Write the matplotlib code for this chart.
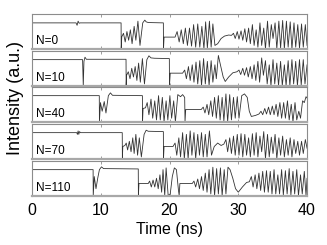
"""Stacked intensity traces for several N values."""

import matplotlib
matplotlib.use("Agg")
import matplotlib.pyplot as plt


plt.rcParams["font.family"] = ["Liberation Sans", "DejaVu Sans"]

panel_labels = ["N=0", "N=10", "N=40", "N=70", "N=110"]
time_ticks = [0, 10, 20, 30, 40]

# (time in ns, intensity as fraction of panel height)
trace_n0 = [
    (0, 0.75), (6.4, 0.75), (6.55, 0.68), (6.7, 0.8), (6.85, 0.74), (7.0, 0.75),
    (12.95, 0.75), (12.97, 0.0), (13.05, 0.35),
    (13.3, 0.45), (13.55, 0.2), (13.8, 0.5), (14.05, 0.25), (14.3, 0.55), (14.55, 0.15),
    (14.85, 0.65), (15.1, 0.25), (15.4, 0.8), (15.7, 0.1), (16.1, 0.75), (16.4, 0.83),
    (16.6, 0.78), (16.9, 0.76), (19.1, 0.75), (19.12, 0.0), (19.2, 0.34), (20.8, 0.34),
    (21.1, 0.5), (21.4, 0.2), (21.7, 0.55), (22.0, 0.15), (22.3, 0.6), (22.6, 0.1),
    (22.9, 0.6), (23.2, 0.08), (23.5, 0.7), (23.8, 0.05), (24.1, 0.72), (24.4, 0.05),
    (24.7, 0.65), (25.0, 0.0), (25.25, 0.78), (25.5, 0.02), (25.8, 0.8), (26.05, 0.05),
    (26.3, 0.72), (26.6, 0.1), (27.0, 0.15), (27.5, 0.3), (28.0, 0.37), (28.6, 0.4),
    (29.0, 0.39),
    (29.3, 0.45), (29.55, 0.3), (29.85, 0.5), (30.1, 0.28), (30.4, 0.52), (30.65, 0.25),
    (30.95, 0.58), (31.2, 0.2), (31.5, 0.6), (31.75, 0.15), (32.05, 0.7), (32.3, 0.1),
    (32.6, 0.55), (32.85, 0.05), (33.15, 0.75), (33.4, 0.1), (33.7, 0.6), (33.95, 0.0),
    (34.25, 0.8), (34.5, 0.05), (34.8, 0.7), (35.05, 0.3), (35.35, 0.75), (35.6, 0.0),
    (35.9, 0.8), (36.15, 0.02), (36.45, 0.82), (36.7, 0.0), (37.0, 0.8), (37.25, 0.05),
    (37.55, 0.78), (37.8, 0.0), (38.1, 0.75), (38.35, 0.05), (38.65, 0.7), (38.9, 0.02),
    (39.2, 0.72), (39.45, 0.05), (39.75, 0.7), (40.0, 0.1),
]

trace_n10 = [
    (0, 0.75), (7.35, 0.75), (7.45, 0.0), (7.55, 0.7), (7.7, 0.82), (7.9, 0.76),
    (13.67, 0.76), (13.69, 0.0), (13.75, 0.3),
    (14.0, 0.4), (14.25, 0.2), (14.5, 0.5), (14.75, 0.25), (15.0, 0.55), (15.25, 0.15),
    (15.5, 0.65), (15.75, 0.1), (16.05, 0.78), (16.35, 0.05), (16.7, 0.75), (17.0, 0.86),
    (17.3, 0.8), (17.8, 0.79), (19.97, 0.78), (19.99, 0.0), (20.1, 0.36), (21.9, 0.36),
    (22.2, 0.45), (22.45, 0.2), (22.75, 0.55), (23.0, 0.15), (23.3, 0.6), (23.55, 0.1),
    (23.85, 0.68), (24.1, 0.05), (24.4, 0.72), (24.65, 0.0), (24.95, 0.78), (25.2, 0.05),
    (25.5, 0.7), (25.75, 0.0), (26.05, 0.72), (26.3, 0.1), (26.6, 0.6), (26.8, 0.2),
    (27.1, 0.87), (27.4, 0.6), (27.8, 0.25), (28.1, 0.12), (28.6, 0.25), (29.2, 0.37),
    (29.8, 0.4),
    (30.1, 0.45), (30.35, 0.32), (30.65, 0.5), (30.9, 0.3), (31.2, 0.52), (31.45, 0.25),
    (31.75, 0.55), (32.0, 0.2), (32.3, 0.6), (32.55, 0.15), (32.85, 0.7), (33.1, 0.1),
    (33.4, 0.8), (33.65, 0.3), (33.95, 0.72), (34.2, 0.05), (34.5, 0.6), (34.75, 0.0),
    (35.05, 0.75), (35.3, 0.05), (35.6, 0.65), (35.85, 0.0), (36.15, 0.7), (36.4, 0.0),
    (36.7, 0.6), (36.95, 0.0), (37.25, 0.72), (37.5, 0.0), (37.8, 0.75), (38.05, 0.05),
    (38.35, 0.7), (38.6, 0.0), (38.9, 0.75), (39.15, 0.02), (39.45, 0.75), (39.7, 0.05),
    (40.0, 0.6),
]

trace_n40 = [
    (0, 0.75), (9.78, 0.75), (9.8, 0.0), (9.95, 0.55), (10.2, 0.3), (10.5, 0.58),
    (10.75, 0.25), (11.1, 0.75), (11.4, 0.83), (11.7, 0.76), (16.05, 0.75), (16.07, 0.0),
    (16.15, 0.38), (16.5, 0.4),
    (16.75, 0.55), (17.0, 0.2), (17.3, 0.65), (17.55, 0.1), (17.85, 0.6), (18.1, 0.05),
    (18.4, 0.75), (18.65, 0.05), (18.95, 0.7), (19.2, 0.0), (19.5, 0.6), (19.75, 0.05),
    (20.05, 0.75), (20.3, 0.1), (20.6, 0.6), (20.85, 0.0), (21.2, 0.78), (21.6, 0.72),
    (21.9, 0.78), (22.2, 0.7), (22.25, 0.0), (22.35, 0.35), (24.6, 0.35),
    (24.9, 0.42), (25.15, 0.25), (25.45, 0.5), (25.7, 0.2), (26.0, 0.6), (26.25, 0.15),
    (26.55, 0.7), (26.8, 0.1), (27.1, 0.75), (27.35, 0.05), (27.65, 0.7), (27.9, 0.02),
    (28.2, 0.8), (28.45, 0.0), (28.75, 0.78), (29.0, 0.05), (29.3, 0.7), (29.55, 0.1),
    (29.85, 0.72), (30.1, 0.1), (30.5, 0.75), (30.9, 0.8), (31.3, 0.7), (31.6, 0.3),
    (31.9, 0.15), (32.5, 0.18), (33.0, 0.22),
    (33.3, 0.3), (33.55, 0.2), (33.85, 0.38), (34.1, 0.22), (34.4, 0.42), (34.65, 0.2),
    (34.95, 0.45), (35.2, 0.2), (35.5, 0.5), (35.75, 0.15), (36.05, 0.55), (36.3, 0.1),
    (36.6, 0.55), (36.85, 0.1), (37.15, 0.6), (37.4, 0.05), (37.7, 0.5), (37.95, 0.0),
    (38.25, 0.55), (38.5, 0.05), (38.8, 0.3), (39.05, 0.1), (39.35, 0.6), (39.6, 0.55),
    (39.85, 0.72), (40.0, 0.68),
]

trace_n70 = [
    (0, 0.75), (6.5, 0.75), (6.6, 0.7), (6.7, 0.8), (6.8, 0.7), (6.9, 0.78), (7.05, 0.75),
    (13.12, 0.75), (13.14, 0.0), (13.2, 0.35), (13.5, 0.38),
    (13.7, 0.45), (13.9, 0.25), (14.15, 0.5), (14.4, 0.2), (14.65, 0.6), (14.85, 0.15),
    (15.1, 0.7), (15.35, 0.1), (15.6, 0.6), (15.9, 0.05), (16.3, 0.7), (16.6, 0.82),
    (16.9, 0.79), (19.1, 0.78), (19.12, 0.0), (19.2, 0.35), (20.5, 0.35),
    (20.8, 0.45), (21.05, 0.1), (21.35, 0.6), (21.6, 0.05), (21.9, 0.75), (22.15, 0.0),
    (22.45, 0.7), (22.7, 0.0), (23.0, 0.8), (23.25, 0.1), (23.55, 0.75), (23.8, 0.0),
    (24.1, 0.7), (24.35, 0.1), (24.65, 0.75), (24.9, 0.05), (25.2, 0.7), (25.45, 0.05),
    (25.8, 0.8), (26.1, 0.1), (26.5, 0.35), (27.0, 0.45), (27.5, 0.38), (27.9, 0.42),
    (28.2, 0.55), (28.45, 0.2), (28.75, 0.6), (29.0, 0.15), (29.3, 0.65), (29.55, 0.1),
    (29.85, 0.7), (30.1, 0.1), (30.4, 0.72), (30.65, 0.05), (30.95, 0.7), (31.2, 0.1),
    (31.5, 0.6), (31.75, 0.05), (32.05, 0.72), (32.3, 0.1), (32.6, 0.75), (32.85, 0.05),
    (33.15, 0.65), (33.4, 0.2), (33.7, 0.78), (33.95, 0.0), (34.25, 0.7), (34.5, 0.05),
    (34.8, 0.62), (35.05, 0.15), (35.35, 0.7), (35.6, 0.0), (35.9, 0.6), (36.15, 0.1),
    (36.45, 0.65), (36.7, 0.05), (37.0, 0.55), (37.25, 0.1), (37.55, 0.6), (37.8, 0.05),
    (38.1, 0.55), (38.35, 0.15), (38.65, 0.5), (38.9, 0.1), (39.2, 0.5), (39.45, 0.15),
    (39.75, 0.55), (40.0, 0.3),
]

trace_n110 = [
    (0, 0.75), (8.88, 0.75), (8.9, 0.0), (9.05, 0.55), (9.3, 0.2), (9.55, 0.5),
    (9.8, 0.75), (10.1, 0.83), (10.4, 0.78), (15.45, 0.77), (15.47, 0.0), (15.55, 0.35),
    (16.9, 0.35),
    (17.1, 0.42), (17.35, 0.25), (17.6, 0.45), (17.85, 0.25), (18.1, 0.5), (18.35, 0.2),
    (18.6, 0.6), (18.85, 0.1), (19.05, 0.75), (19.3, 0.0), (19.5, 0.8), (19.8, 0.0),
    (20.1, 0.05), (20.4, 0.55), (20.7, 0.8), (21.0, 0.75), (21.3, 0.15), (21.4, 0.0),
    (21.5, 0.35), (23.3, 0.35),
    (23.55, 0.42), (23.8, 0.25), (24.1, 0.48), (24.35, 0.2), (24.65, 0.55), (24.9, 0.15),
    (25.2, 0.65), (25.45, 0.1), (25.75, 0.75), (26.0, 0.05), (26.3, 0.82), (26.55, 0.0),
    (26.85, 0.78), (27.1, 0.05), (27.4, 0.8), (27.65, 0.0), (27.95, 0.75), (28.2, 0.05),
    (28.5, 0.82), (28.8, 0.75), (29.2, 0.5), (29.6, 0.2), (30.0, 0.1), (30.6, 0.25),
    (31.2, 0.38), (31.6, 0.4),
    (31.9, 0.55), (32.15, 0.25), (32.45, 0.6), (32.7, 0.2), (33.0, 0.65), (33.25, 0.15),
    (33.55, 0.7), (33.8, 0.1), (34.1, 0.72), (34.35, 0.1), (34.65, 0.7), (34.9, 0.05),
    (35.2, 0.75), (35.45, 0.05), (35.75, 0.6), (36.0, 0.05), (36.3, 0.75), (36.55, 0.02),
    (36.85, 0.72), (37.1, 0.05), (37.4, 0.78), (37.65, 0.02), (37.95, 0.7), (38.2, 0.05),
    (38.5, 0.75), (38.75, 0.0), (39.05, 0.6), (39.3, 0.05), (39.6, 0.7), (39.85, 0.0),
    (40.0, 0.5),
]

traces = [trace_n0, trace_n10, trace_n40, trace_n70, trace_n110]

FRAME = "#8c8c8c"

fig = plt.figure(figsize=(3.27, 2.45), dpi=100)
left, width, height = 0.098, 0.841, 0.143
bottoms = [0.799, 0.649, 0.502, 0.351, 0.200]

for index, (trace, label, bottom) in enumerate(zip(traces, panel_labels, bottoms)):
    ax = fig.add_axes([left, bottom, width, height])
    times = [point[0] for point in trace]
    values = [point[1] for point in trace]
    ax.plot(times, values, color="#333333", lw=0.6)
    ax.set_xlim(0, 40)
    ax.set_ylim(-0.01, 1.0)
    ax.set_yticks([])
    ax.set_xticks(time_ticks)
    ax.tick_params(axis="x", direction="in", length=2, width=0.6, color=FRAME,
                   top=True, bottom=True, labelsize=11.5, pad=5)
    for side, spine in ax.spines.items():
        spine.set_color(FRAME)
        spine.set_linewidth(0.8)
    ax.spines["bottom"].set_linewidth(1.6)
    ax.spines["bottom"].set_color("#a8a8a8")
    ax.text(0.015, 0.05, label, transform=ax.transAxes, fontsize=8.5, va="bottom", ha="left")
    if index < len(traces) - 1:
        ax.tick_params(labelbottom=False)
    else:
        ax.set_xlabel("Time (ns)", fontsize=11.5, labelpad=3)

fig.text(0.048, 0.6, "Intensity (a.u.)", rotation=90, fontsize=13, ha="center", va="center")

fig.savefig("out.png", dpi=100)
